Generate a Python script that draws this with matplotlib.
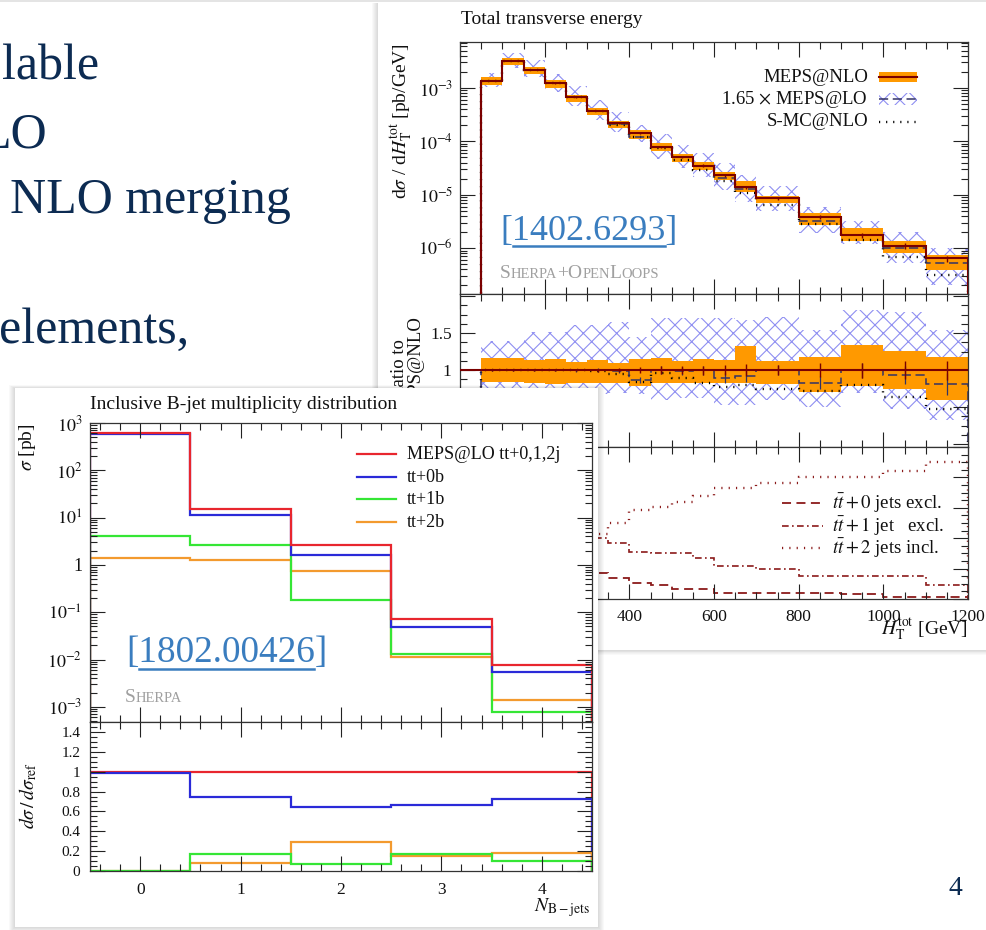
import numpy as np
import matplotlib
matplotlib.use("Agg")
import matplotlib.pyplot as plt
from matplotlib.transforms import Affine2D
from matplotlib.patches import Rectangle
from matplotlib.ticker import MultipleLocator, LogLocator, FuncFormatter, NullFormatter

# ---------------- data ----------------
slide_lines = ["lable", "LO", "NLO merging", "elements,"]
slide_number = "4"

# Total transverse energy (right plot)
ht_edges = [50, 100, 150, 200, 250, 300, 350, 400, 450, 500, 550, 600, 650, 700,
            800, 900, 1000, 1100, 1200]
meps_nlo = [1.37e-3, 3.2e-3, 2.18e-3, 1.22e-3, 6.7e-4, 3.7e-4, 2.17e-4, 1.41e-4,
            7.9e-5, 5.1e-5, 3.5e-5, 2.3e-5, 1.37e-5, 8.5e-6, 3.85e-6, 1.75e-6,
            1.1e-6, 6.4e-7]
nlo_band_hi = [1.16, 1.16, 1.14, 1.15, 1.11, 1.14, 1.10, 1.15, 1.17, 1.12, 1.15,
               1.14, 1.32, 1.13, 1.18, 1.34, 1.26, 1.18]
nlo_band_lo = [0.84, 0.84, 0.82, 0.81, 0.82, 0.83, 0.82, 0.78, 0.82, 0.82, 0.82,
               0.82, 0.82, 0.81, 0.71, 0.78, 0.74, 0.60]
nlo_stat = [0.005, 0.005, 0.008, 0.01, 0.015, 0.02, 0.03, 0.04, 0.05, 0.05, 0.06,
            0.07, 0.08, 0.07, 0.09, 0.10, 0.12, 0.13]
lo_ratio = [1.0, 1.0, 1.0, 1.0, 1.0, 1.0, 0.99, 0.87, 1.0, 0.99, 1.0, 0.90, 0.92,
            1.0, 0.83, 1.0, 0.93, 0.81]
lo_stat = [0.01, 0.01, 0.01, 0.015, 0.02, 0.025, 0.03, 0.04, 0.05, 0.05, 0.06,
           0.07, 0.08, 0.07, 0.09, 0.10, 0.12, 0.15]
lo_band_hi = [1.40, 1.40, 1.52, 1.52, 1.61, 1.61, 1.65, 1.45, 1.70, 1.70, 1.70,
              1.70, 1.68, 1.72, 1.54, 1.81, 1.79, 1.54]
lo_band_lo = [0.75, 0.73, 0.72, 0.70, 0.68, 0.68, 0.685, 0.68, 0.595, 0.62, 0.62,
              0.527, 0.527, 0.595, 0.505, 0.685, 0.48, 0.32]
smc_ratio = [1.0, 1.0, 1.0, 1.0, 1.0, 0.99, 0.95, 0.84, 0.96, 0.89, 0.82, 0.77,
             0.80, 0.74, 0.72, 0.80, 0.63, 0.48]
frac_0j = [0.55, 0.45, 0.38, 0.31, 0.25, 0.17, 0.14, 0.105, 0.09, 0.065, 0.065,
           0.04, 0.04, 0.04, 0.04, 0.033, 0.01, 0.01]
frac_1j = [0.40, 0.45, 0.47, 0.46, 0.44, 0.40, 0.37, 0.31, 0.30, 0.30, 0.27, 0.22,
           0.22, 0.20, 0.15, 0.15, 0.15, 0.09]
frac_2j = [0.05, 0.10, 0.15, 0.23, 0.31, 0.43, 0.50, 0.585, 0.605, 0.64, 0.68,
           0.73, 0.73, 0.76, 0.80, 0.80, 0.84, 0.90]
right_legend = ["MEPS@NLO", r"1.65 $\times$ MEPS@LO", "S-MC@NLO"]
frac_legend = [r"$t\bar{t}+0$ jets excl.", r"$t\bar{t}+1$ jet   excl.",
               r"$t\bar{t}+2$ jets incl."]

# Inclusive B-jet multiplicity (left plot)
nb_edges = [-0.5, 0.5, 1.5, 2.5, 3.5, 4.5]
nb_ticks = [0, 1, 2, 3, 4]
xs_all = [600, 15.5, 2.6, 0.072, 7.7e-3]
xs_0b = [595, 11.4, 1.63, 0.048, 5.5e-3]
xs_1b = [4.0, 2.7, 0.18, 0.0128, 7.8e-4]
xs_2b = [1.39, 1.29, 0.74, 0.0114, 1.4e-3]
r_all = [1.0, 1.0, 1.0, 1.0, 1.0]
r_0b = [0.99, 0.745, 0.64, 0.66, 0.72]
r_1b = [0.0, 0.17, 0.07, 0.17, 0.10]
r_2b = [0.0, 0.085, 0.29, 0.155, 0.18]
left_legend = ["MEPS@LO tt+0,1,2j", "tt+0b", "tt+1b", "tt+2b"]

# ---------------- figure ----------------
W, H = 986, 930
plt.rcParams["font.family"] = ["Liberation Serif", "DejaVu Serif"]
plt.rcParams["mathtext.fontset"] = "stix"
plt.rcParams["hatch.linewidth"] = 0.8

fig = plt.figure(figsize=(W / 100, H / 100), dpi=100)
fig.patch.set_facecolor("white")
PX = Affine2D().scale(1.0 / W, -1.0 / H).translate(0, 1) + fig.transFigure


def rect(l, t, r, b):
    return [l / W, 1 - b / H, (r - l) / W, (b - t) / H]


NAVY = "#0c2b52"
DARKRED = "#7a0000"
FRACRED = "#8b1a1a"
ORANGE = "#ff9900"
HATCH = "#8f8ff2"
LOBLUE = "#333366"
LINK = "#3a7dbf"
GREY = "#a0a0a0"
TXT = "#111111"
C_RED, C_BLUE, C_GREEN, C_ORANGE = "#e8262e", "#2a2ad8", "#35e635", "#f39a2e"

# slide text
for txt, x, y in zip(slide_lines, [2, -20, 10, -1], [80, 147, 213, 343]):
    fig.text(x, y, txt, transform=PX, fontsize=36, color=NAVY,
             va="baseline", ha="left", zorder=1)
fig.text(955, 888, slide_number, transform=PX, fontsize=20, color=NAVY,
         ha="center", va="center", zorder=1)

# background for the right card
bgR = fig.add_axes([0, 0, 1, 1], zorder=1.5)
bgR.set_axis_off()
bgR.set_xlim(0, W)
bgR.set_ylim(H, 0)
bgR.add_patch(Rectangle((0, 0), W, 2.5, facecolor="#e4e4e4", lw=0))
for k in range(1, 7):
    bgR.add_patch(Rectangle((378 - k, 3), 640, 647 + 0.8 * k, facecolor="k",
                            alpha=0.022, lw=0))
bgR.add_patch(Rectangle((378, 3), 640, 647, facecolor="white", lw=0))


def style(ax):
    ax.tick_params(which="both", direction="in", top=True, right=True,
                   color="#222222", labelcolor=TXT, labelsize=12)
    ax.tick_params(which="major", length=10.5, width=0.8)
    ax.tick_params(which="minor", length=5, width=0.8)
    for s in ax.spines.values():
        s.set_linewidth(0.9)
        s.set_color("#333333")


def small_caps(ax, x, y, word, big, small, color):
    r = fig.canvas.get_renderer()
    runs = []
    for ch in word:
        low = ch.islower()
        if runs and runs[-1][1] == low:
            runs[-1][0] += ch
        else:
            runs.append([ch, low])
    cx = x
    for s, low in runs:
        t = ax.text(cx, y, s.upper(), transform=PX, fontsize=small if low else big,
                    color=color, va="baseline", ha="left", zorder=10)
        cx += t.get_window_extent(r).width


def pow_fmt(v, p):
    n = int(round(np.log10(v)))
    return "1" if n == 0 else r"$10^{%d}$" % n


# ---------------- right plot ----------------
e = np.array(ht_edges, float)
c = 0.5 * (e[:-1] + e[1:])
nlo = np.array(meps_nlo)

axR1 = fig.add_axes(rect(460, 42, 968, 294), zorder=2)
axR2 = fig.add_axes(rect(460, 294, 968, 447), zorder=2)
axR3 = fig.add_axes(rect(460, 447, 968, 599), zorder=2)
for ax in (axR1, axR2, axR3):
    ax.set_xlim(0, 1200)
    ax.xaxis.set_major_locator(MultipleLocator(200))
    ax.xaxis.set_minor_locator(MultipleLocator(50))
    style(ax)

ylo = 10 ** -6.86
axR1.set_yscale("log")
axR1.set_ylim(ylo, 10 ** -2.14)
axR1.yaxis.set_major_locator(LogLocator(base=10, numticks=20))
axR1.yaxis.set_minor_locator(LogLocator(base=10, subs=np.arange(2, 10), numticks=20))
axR1.yaxis.set_major_formatter(FuncFormatter(pow_fmt))
axR1.yaxis.set_minor_formatter(NullFormatter())
axR1.tick_params(labelbottom=False, pad=5, labelsize=13)
axR1.stairs(nlo * np.array(lo_band_hi), e, baseline=nlo * np.array(lo_band_lo),
            fill=True, facecolor="none", edgecolor=HATCH, hatch="xx", linewidth=0, zorder=1)
axR1.stairs(nlo * np.array(nlo_band_hi), e, baseline=nlo * np.array(nlo_band_lo),
            fill=True, color=ORANGE, zorder=2)
axR1.stairs(nlo * np.array(smc_ratio), e, color="k", lw=1.7,
            linestyle=(0, (0.5, 2.5)), zorder=3)
axR1.stairs(nlo * np.array(lo_ratio), e, color=LOBLUE, lw=1.1,
            linestyle=(0, (6, 3)), zorder=4)
axR1.stairs(nlo, e, color=DARKRED, lw=1.5, zorder=5)
axR1.vlines(e[0], ylo, nlo[0], color=DARKRED, lw=1.5, zorder=5)
axR1.vlines(c, nlo * (1 - np.array(nlo_stat)), nlo * (1 + np.array(nlo_stat)),
            color=DARKRED, lw=1.0, zorder=5)

axR2.set_ylim(-0.04, 2.03)
axR2.yaxis.set_major_locator(MultipleLocator(0.5))
axR2.yaxis.set_minor_locator(MultipleLocator(0.125))
axR2.yaxis.set_major_formatter(FuncFormatter(
    lambda v, p: {0.5: "0.5", 1.0: "1", 1.5: "1.5"}.get(round(v, 2), "")))
axR2.tick_params(labelbottom=False, pad=6, labelsize=12.5)
axR2.stairs(lo_band_hi, e, baseline=lo_band_lo, fill=True, facecolor="none",
            edgecolor=HATCH, hatch="xx", linewidth=0, zorder=1)
axR2.stairs(nlo_band_hi, e, baseline=nlo_band_lo, fill=True, color=ORANGE, zorder=2)
axR2.stairs(smc_ratio, e, color="k", lw=1.7, linestyle=(0, (0.5, 2.5)), zorder=3)
axR2.stairs(lo_ratio, e, color=LOBLUE, lw=1.1, linestyle=(0, (6, 3)), zorder=4)
axR2.vlines(c, np.array(lo_ratio) - np.array(lo_stat),
            np.array(lo_ratio) + np.array(lo_stat), color=LOBLUE, lw=0.9, zorder=4)
axR2.axhline(1.0, color=DARKRED, lw=1.5, zorder=5)
axR2.vlines(c, 1 - np.array(nlo_stat), 1 + np.array(nlo_stat), color=DARKRED,
            lw=1.0, zorder=5)

axR3.set_ylim(0, 1)
axR3.yaxis.set_major_locator(MultipleLocator(0.2))
axR3.yaxis.set_minor_locator(MultipleLocator(0.05))
axR3.tick_params(labelleft=False, pad=7, labelsize=12.5)
axR3.xaxis.set_major_formatter(FuncFormatter(lambda v, p: "%d" % v))
axR3.stairs(frac_0j, e, color=FRACRED, lw=1.3, linestyle=(0, (5, 3)))
axR3.stairs(frac_1j, e, color=FRACRED, lw=1.2, linestyle=(0, (4, 2, 1, 2)))
axR3.stairs(frac_2j, e, color=FRACRED, lw=1.7, linestyle=(0, (0.5, 2.6)))

# right plot texts
axR1.text(461, 20, "Total transverse energy", transform=PX, fontsize=14,
          ha="left", va="center", color=TXT)
axR1.text(402, 43, r"d$\sigma$ / d$H_\mathrm{T}^\mathrm{tot}$ [pb/GeV]", transform=PX,
          rotation=90, ha="center", va="top", fontsize=14, color=TXT)
axR2.text(408, 369, "Ratio to\nMEPS@NLO", transform=PX, rotation=90, ha="center",
          va="center", fontsize=13.5, linespacing=0.95, color=TXT)
axR3.text(968, 630, r"$H_\mathrm{T}^\mathrm{tot}$ [GeV]", transform=PX, ha="right",
          va="center", fontsize=14, color=TXT)
for i, (lab, y) in enumerate(zip(right_legend, [77, 99, 122])):
    axR1.text(868, y, lab, transform=PX, ha="right", va="center", fontsize=13.5,
              color=TXT)
axR1.add_patch(Rectangle((879, 72), 38, 10, transform=PX, facecolor=ORANGE, lw=0,
                         clip_on=False, zorder=6))
axR1.plot([879, 917], [77, 77], transform=PX, color=DARKRED, lw=1.5, clip_on=False, zorder=7)
axR1.add_patch(Rectangle((879, 93), 38, 12, transform=PX, facecolor="none",
                         edgecolor=HATCH, hatch="xx", lw=0, clip_on=False, zorder=6))
axR1.plot([879, 917], [99, 99], transform=PX, color=LOBLUE, lw=1.1,
          linestyle=(0, (6, 3)), clip_on=False, zorder=7)
axR1.plot([879, 917], [122, 122], transform=PX, color="k", lw=1.7,
          linestyle=(0, (0.5, 2.5)), clip_on=False, zorder=7)
axR1.text(500, 231, "[1402.6293]", transform=PX, fontsize=26, color=LINK,
          ha="left", va="center", zorder=8)
axR1.plot([513, 665], [246, 246], transform=PX, color=LINK, lw=1.8, clip_on=False, zorder=8)
small_caps(axR1, 500, 278, "Sherpa+OpenLoops", 14, 10.5, GREY)

frac_styles = [dict(lw=1.3, linestyle=(0, (5, 3))), dict(lw=1.2, linestyle=(0, (4, 2, 1, 2))),
               dict(lw=1.7, linestyle=(0, (0.5, 2.6)))]
for lab, y, st in zip(frac_legend, [503, 526, 548], frac_styles):
    axR3.text(832, y, lab, transform=PX, ha="left", va="center", fontsize=13.5,
              color=TXT)
    axR3.plot([782, 823], [y, y], transform=PX, color=FRACRED, clip_on=False, **st)

# ---------------- left card ----------------
cardL = fig.add_axes([0, 0, 1, 1], zorder=3)
cardL.set_axis_off()
cardL.set_xlim(0, W)
cardL.set_ylim(H, 0)
for k in range(1, 7):
    cardL.add_patch(Rectangle((15 - k, 388 - 0.5 * k), 583 + 2 * k, 539 + 1.5 * k,
                              facecolor="k", alpha=0.025, lw=0))
cardL.add_patch(Rectangle((15, 388), 583, 539, facecolor="white", lw=0))

# ---------------- left plot ----------------
ne = np.array(nb_edges, float)
axL1 = fig.add_axes(rect(90, 423, 592, 722), zorder=4)
axL2 = fig.add_axes(rect(90, 722, 592, 871), zorder=4)
for ax in (axL1, axL2):
    ax.set_xlim(ne[0], ne[-1])
    ax.set_xticks(nb_ticks)
    ax.xaxis.set_minor_locator(MultipleLocator(0.2))
    style(ax)

axL1.set_yscale("log")
axL1.set_ylim(10 ** -3.32, 1e3)
axL1.yaxis.set_major_locator(LogLocator(base=10, numticks=20))
axL1.yaxis.set_minor_locator(LogLocator(base=10, subs=np.arange(2, 10), numticks=20))
axL1.yaxis.set_major_formatter(FuncFormatter(pow_fmt))
axL1.yaxis.set_minor_formatter(NullFormatter())
axL1.tick_params(labelbottom=False, pad=5.5, labelsize=13)
for vals, col in [(xs_2b, C_ORANGE), (xs_1b, C_GREEN), (xs_0b, C_BLUE), (xs_all, C_RED)]:
    axL1.stairs(vals, ne, color=col, lw=1.6)

axL2.set_ylim(0, 1.5)
axL2.yaxis.set_major_locator(MultipleLocator(0.2))
axL2.yaxis.set_minor_locator(MultipleLocator(0.05))
axL2.yaxis.set_major_formatter(FuncFormatter(lambda v, p: "%g" % round(v, 1)))
axL2.xaxis.set_major_formatter(FuncFormatter(lambda v, p: "%d" % v))
axL2.tick_params(axis="y", pad=7, labelsize=11)
axL2.tick_params(axis="x", pad=8, labelsize=12.5)
for vals, col in [(r_all, C_RED), (r_0b, C_BLUE), (r_2b, C_ORANGE), (r_1b, C_GREEN)]:
    axL2.stairs(vals, ne, color=col, lw=1.6)

axL1.text(90, 404, "Inclusive B-jet multiplicity distribution", transform=PX,
          fontsize=14, ha="left", va="center", color=TXT)
axL1.text(27, 423, r"$\sigma$ [pb]", transform=PX, rotation=90, ha="center", va="top",
          fontsize=14, color=TXT)
axL2.text(28, 796, r"$d\sigma\,/\,d\sigma_\mathrm{ref}$", transform=PX, rotation=90,
          ha="center", va="center", fontsize=14, color=TXT)
axL2.text(590, 908, r"$N_\mathrm{B-jets}$", transform=PX, ha="right", va="center",
          fontsize=14, color=TXT)
for lab, y, col in zip(left_legend, [454, 477, 499, 522], [C_RED, C_BLUE, C_GREEN, C_ORANGE]):
    axL1.text(407, y, lab, transform=PX, ha="left", va="center", fontsize=13,
              color=TXT)
    axL1.plot([357, 396], [y, y], transform=PX, color=col, lw=1.6, clip_on=False)
axL1.text(126, 653, "[1802.00426]", transform=PX, fontsize=26.8, color=LINK,
          ha="left", va="center", zorder=8)
axL1.plot([139, 314], [669, 669], transform=PX, color=LINK, lw=1.8, clip_on=False, zorder=8)
small_caps(axL1, 125, 702, "Sherpa", 14, 10.5, GREY)

fig.savefig("out.png", dpi=100)
